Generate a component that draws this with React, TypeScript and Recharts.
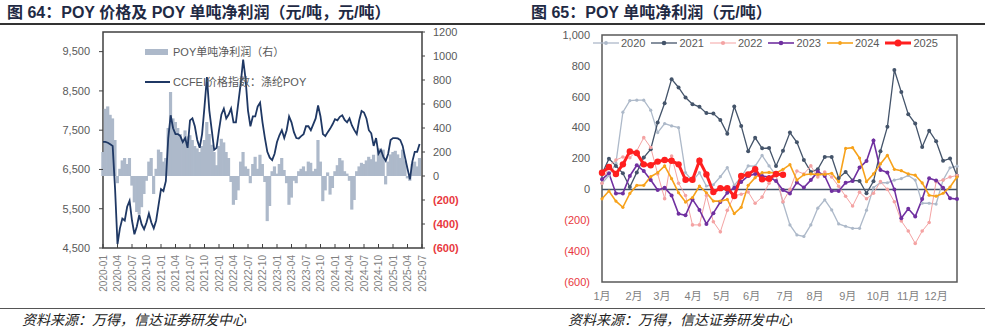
import { ComposedChart, LineChart, Line, Bar, XAxis, YAxis, ReferenceArea, ReferenceLine } from 'recharts'

const GRAY = '#595959'
const RED = '#e8383d'
const NUM_FONT = '"Liberation Sans", Arial, sans-serif'
const CJK_FONT = '"Liberation Sans", "Noto Sans CJK SC", sans-serif'

// ---- 图64: POY price (left axis) and net profit per ton (right axis), twice a month from 2020-01
const QUARTER_LABELS = [
  '2020-01', '2020-04', '2020-07', '2020-10', '2021-01', '2021-04', '2021-07', '2021-10',
  '2022-01', '2022-04', '2022-07', '2022-10', '2023-01', '2023-04', '2023-07', '2023-10',
  '2024-01', '2024-04', '2024-07', '2024-10', '2025-01', '2025-04', '2025-07',
]
const PRICE = [
  7200, 7200, 7180, 7140, 7100, 6000, 4600, 5000, 5250, 5200,
  5550, 5700, 5200, 4850, 5050, 5340, 5100, 4980, 5150, 5380,
  5150, 5000, 5200, 5600, 6000, 5950, 6200, 7300, 7880, 7550,
  7400, 7400, 7350, 7200, 7300, 7050, 7750, 7800, 7600, 7250,
  7050, 7400, 8100, 8850, 8000, 7500, 7000, 7050, 7500, 7900,
  8050, 7800, 7900, 8050, 7700, 7700, 8200, 8700, 9300, 8800,
  8000, 7600, 7850, 7850, 8100, 8200, 7700, 7300, 6950, 6800,
  6740, 6900, 7200, 7370, 7500, 7300, 7500, 7850, 7700, 7450,
  7300, 7290, 7350, 7400, 7600, 7600, 7500, 7650, 7800, 8130,
  7850, 7400, 7350, 7450, 7540, 7650, 7780, 7750, 7840, 7880,
  7760, 7700, 7800, 7620, 7500, 7400, 7750, 7990, 7950, 7800,
  7500, 7420, 7100, 7300, 6900, 7000, 6820, 6720, 6900, 7250,
  7300, 7300, 7290, 7250, 7100, 6800, 6520, 6250, 6700, 6950,
  6950, 7150,
]
const PROFIT = [
  200, 560, 580, 510, 480, 300, -60, 60, 130, 150,
  100, 150, -80, -220, -300, -320, -260, -150, -40, 120,
  150, -150, 60, 220, 200, 120, 150, 400, 700, 480,
  450, 400, 350, 300, 380, 330, 340, 300, 250, 230,
  200, 250, 300, 450, 350, 260, 200, 90, 250, 310,
  280, 200, 150, -50, -240, -200, -120, 120, 200, 80,
  60, -60, 100, 160, 60, 177, 100, -50, -376, -250,
  40, 80, 20, 100, 150, 50, -60, -240, -180, -40,
  -60, 40, 60, 80, 40, 120, 110, 40, 60, 300,
  120, -210, -120, 30, -155, -100, 40, 90, 150, 130,
  40, 20, -40, -280, -200, 40, 80, 110, 100, 130,
  160, 140, 177, 120, 230, 200, 220, -70, 120, 180,
  200, 210, 180, 150, 220, 130, -20, -40, 100, 120,
  80, 150,
]
const PRICE_TICKS = [4500, 5500, 6500, 7500, 8500, 9500]
const PROFIT_TICKS = [-600, -400, -200, 0, 200, 400, 600, 800, 1000, 1200]

// ---- 图65: weekly net profit per ton by year
const MONTH_LABELS = ['1月', '2月', '3月', '4月', '5月', '6月', '7月', '8月', '9月', '10月', '11月', '12月']
const MONTH_TICKS = [1, 5.6, 9.6, 14.1, 18.2, 22.5, 27.3, 31.6, 36.3, 40.7, 45, 49]
const YEAR_TICKS = [-600, -400, -200, 0, 200, 400, 600, 800, 1000]

const Y2020 = [
  40, 90, 170, 500, 575, 578, 578, 513, 368, 426,
  411, 400, 108, 54, 108, 22, 30, 82, 141, 26,
  80, 152, 150, 220, 152, 90, -85, -230, -295, -305,
  -230, -122, -68, -133, -224, -239, -252, -252, -135, 11,
  43, 43, 60, 70, 90, 60, -90, -90, -95, 60,
  140, 150,
]
const Y2021 = [
  100, 199, 152, 104, 15, 110, 206, 260, 433, 558,
  714, 660, 595, 552, 535, 494, 491, 450, 361, 537,
  411, 247, 335, 266, 268, 152, 250, 368, 305, 190,
  113, 130, 210, 210, 74, 113, 58, 55, -25, 52,
  247, 405, 773, 630, 487, 426, 275, 380, 312, 185,
  200, 88,
]
const Y2022 = [
  40, 150, 190, 210, 205, 250, 335, 271, 100, -60,
  216, 40, -40, -230, -230, -40, -210, -275, -136, -40,
  -32, -17, -90, -50, 40, 90, -80, 0, 119, 100,
  152, 80, 113, 80, 20, -45, -108, -18, -61, -25,
  50, 0, -80, -205, -270, -350, -270, -215, 50, 60,
  80, 90,
]
const Y2023 = [
  65, 104, -26, -26, 87, 156, 119, 61, -4, 11,
  -39, -158, -168, -65, -133, -224, -154, -82, -22, 11,
  48, 87, 100, 87, 80, 54, -4, -26, 45, 12,
  60, 115, 87, -11, -11, 43, 54, 141, 184, 316,
  126, 110, 0, -187, -126, -176, -63, 72, 58, 10,
  -58, -63,
]
const Y2024 = [
  -61, -11, -76, -116, -26, 26, 26, 82, 108, 152,
  69, -22, -82, -54, 22, -22, -76, -76, -65, -157,
  -116, 26, 76, 108, 110, 105, 130, 160, 60, 95,
  100, 97, 97, 104, 50, 265, 270, 203, 50, 100,
  165, 221, 130, 121, 100, 92, 42, -38, -44, -25,
  15, 80,
]
const Y2025 = [
  108, 145, 100, 162, 245, 235, 162, 156, 180, 190,
  185, 162, 62, 62, 185, 97, -17, 8, 8, -43,
  87, 97, 130, 65, 69, 100, 95,
]

const SERIES = [
  { key: '2020', values: Y2020, color: '#adb9c9', width: 1.3, r: 1.6 },
  { key: '2021', values: Y2021, color: '#44546a', width: 1.3, r: 2 },
  { key: '2022', values: Y2022, color: '#f4a3a3', width: 1, r: 1.8 },
  { key: '2023', values: Y2023, color: '#7030a0', width: 1.6, r: 2 },
  { key: '2024', values: Y2024, color: '#f7a21b', width: 1.6, r: 1.6 },
  { key: '2025', values: Y2025, color: '#ff1f1f', width: 3, r: 3.2 },
]

const priceRows = PRICE.map((p, i) => ({ m: i / 2, price: p, profit: PROFIT[i] }))
const weekRows = Y2020.map((_, i) => {
  const row: Record<string, number | undefined> = { w: i + 1 }
  SERIES.forEach((s) => { row[s.key] = s.values[i] })
  return row
})

function fmt(v: number, comma: boolean) {
  const abs = comma ? Math.abs(v).toLocaleString('en-US') : String(Math.abs(v))
  return v < 0 ? `(${abs})` : abs
}

function NumTick(props: any) {
  const { x, y, payload, anchor, comma, boldNeg } = props
  const v = payload.value as number
  return (
    <text x={x} y={y} dy="0.35em" textAnchor={anchor} fontSize={11} fontFamily={NUM_FONT}
      fontWeight={boldNeg && v < 0 ? 700 : 400} fill={v < 0 ? RED : GRAY}>
      {fmt(v, comma)}
    </text>
  )
}

function DateTick({ x, y, payload }: any) {
  return (
    <text x={x} y={y} transform={`rotate(-90 ${x} ${y})`} dy="0.35em" textAnchor="end"
      fontSize={10} fontFamily={NUM_FONT} fill="#7f7f7f">
      {QUARTER_LABELS[Math.round(payload.value / 3)]}
    </text>
  )
}

function MonthTick({ x, y, payload }: any) {
  return (
    <text x={x} y={y} dy="0.71em" textAnchor="middle" fontSize={11} fontFamily={CJK_FONT} fill="#7f7f7f">
      {MONTH_LABELS[MONTH_TICKS.indexOf(payload.value)]}
    </text>
  )
}

// bars sit half a month apart; widen each a little so they read as one dense band
function ProfitBar(p: any) {
  const h = p.height as number
  const top = h < 0 ? p.y + h : p.y
  return <rect x={p.x - 0.5} y={top} width={p.width + 1} height={Math.abs(h)} fill="#adb9ca" />
}

const titleStyle: React.CSSProperties = {
  position: 'absolute', top: 3, fontSize: 16, fontWeight: 700, color: '#1f2a44',
  fontFamily: CJK_FONT, whiteSpace: 'nowrap', lineHeight: '19px',
}
const sourceStyle: React.CSSProperties = {
  position: 'absolute', top: 311, fontSize: 14, fontStyle: 'italic', color: '#222',
  fontFamily: '"Noto Sans CJK SC", sans-serif', whiteSpace: 'nowrap', lineHeight: '16px',
}
const legendText: React.CSSProperties = {
  fontSize: 11, color: GRAY, fontFamily: CJK_FONT, lineHeight: '12px', whiteSpace: 'nowrap',
}

function PriceChart() {
  return (
    <ComposedChart width={490} height={308} data={priceRows} margin={{ top: 32, right: 0, bottom: 0, left: 0 }}>
      <XAxis dataKey="m" type="number" domain={[0, 66]} ticks={QUARTER_LABELS.map((_, i) => i * 3)}
        interval={0} height={60} tickSize={-4} tickMargin={11} axisLine={false}
        tickLine={{ stroke: '#404040' }} tick={<DateTick />} />
      <YAxis yAxisId="left" domain={[4500, 10000]} ticks={PRICE_TICKS} width={103} tickSize={4}
        tickMargin={9} axisLine={false} tickLine={{ stroke: '#404040' }}
        tick={(p: any) => <NumTick {...p} anchor="end" comma />} />
      <YAxis yAxisId="right" orientation="right" domain={[-600, 1200]} ticks={PROFIT_TICKS} width={68}
        tickSize={3} tickMargin={8} axisLine={false} tickLine={{ stroke: '#404040' }}
        tick={(p: any) => <NumTick {...p} anchor="start" boldNeg />} />
      <Bar yAxisId="right" dataKey="profit" fill="#adb9ca" barSize={3} shape={<ProfitBar />}
        isAnimationActive={false} />
      <Line yAxisId="left" dataKey="price" type="linear" stroke="#1f3864" strokeWidth={1.8}
        dot={false} isAnimationActive={false} />
      <ReferenceArea yAxisId="left" x1={0} x2={66} y1={4500} y2={10000} fill="none"
        stroke="#404040" strokeWidth={1.5} />
    </ComposedChart>
  )
}

function YearChart() {
  return (
    <LineChart width={495} height={310} data={weekRows} margin={{ top: 35, right: 28, bottom: 0, left: 0 }}>
      <XAxis dataKey="w" type="number" domain={[1, 52]} ticks={MONTH_TICKS} interval={0} height={28}
        tickSize={0} tickMargin={10} axisLine={false} tickLine={false} tick={<MonthTick />} />
      <YAxis domain={[-600, 1000]} ticks={YEAR_TICKS} width={112} tickSize={0} tickMargin={12}
        axisLine={false} tickLine={false} tick={(p: any) => <NumTick {...p} anchor="end" comma />} />
      <ReferenceLine y={0} stroke="#44546a" strokeWidth={1.5} />
      {SERIES.map((s) => (
        <Line key={s.key} dataKey={s.key} type="linear" stroke={s.color} strokeWidth={s.width}
          dot={{ r: s.r, fill: s.color, stroke: s.color, strokeWidth: 0 }} activeDot={false}
          isAnimationActive={false} />
      ))}
      <ReferenceArea x1={1} x2={52} y1={-600} y2={1000} fill="none" stroke="#595959" strokeWidth={1.5} />
    </LineChart>
  )
}

export default function App() {
  return (
    <div style={{ position: 'absolute', left: 0, top: 0, width: 985, height: 335, background: '#fff', overflow: 'hidden' }}>
      <div style={{ ...titleStyle, left: 7 }}>图 64：POY 价格及 POY 单吨净利润（元/吨，元/吨）</div>
      <div style={{ ...titleStyle, left: 531 }}>图 65：POY 单吨净利润（元/吨）</div>
      <div style={{ position: 'absolute', left: 0, top: 23, width: 985, height: 1.5, background: '#333' }} />

      <div style={{ position: 'absolute', left: 0, top: 0 }}><PriceChart /></div>
      <div style={{ position: 'absolute', left: 490, top: 0 }}><YearChart /></div>

      <div style={{ position: 'absolute', left: 145, top: 46, display: 'flex', alignItems: 'center' }}>
        <div style={{ width: 23, height: 6, background: '#adb9ca', marginRight: 5 }} />
        <span style={legendText}>POY单吨净利润（右）</span>
      </div>
      <div style={{ position: 'absolute', left: 145, top: 76, display: 'flex', alignItems: 'center' }}>
        <div style={{ width: 25, height: 1.8, background: '#1f3864', marginRight: 3 }} />
        <span style={legendText}>CCFEI价格指数：涤纶POY</span>
      </div>

      <div style={{ position: 'absolute', left: 593, top: 37, display: 'flex', gap: 6 }}>
        {SERIES.map((s) => (
          <div key={s.key} style={{ display: 'flex', alignItems: 'center' }}>
            <svg width={26} height={10}>
              <line x1={0} y1={5} x2={26} y2={5} stroke={s.color} strokeWidth={s.width} />
              <circle cx={13} cy={5} r={s.r + 0.3} fill={s.color} />
            </svg>
            <span style={{ ...legendText, fontFamily: NUM_FONT, marginLeft: 2 }}>{s.key}</span>
          </div>
        ))}
      </div>

      <div style={{ position: 'absolute', left: 0, top: 307.5, width: 985, height: 1.2, background: '#555' }} />
      <div style={{ ...sourceStyle, left: 22 }}>资料来源：万得，信达证券研发中心</div>
      <div style={{ ...sourceStyle, left: 568 }}>资料来源：万得，信达证券研发中心</div>
    </div>
  )
}
